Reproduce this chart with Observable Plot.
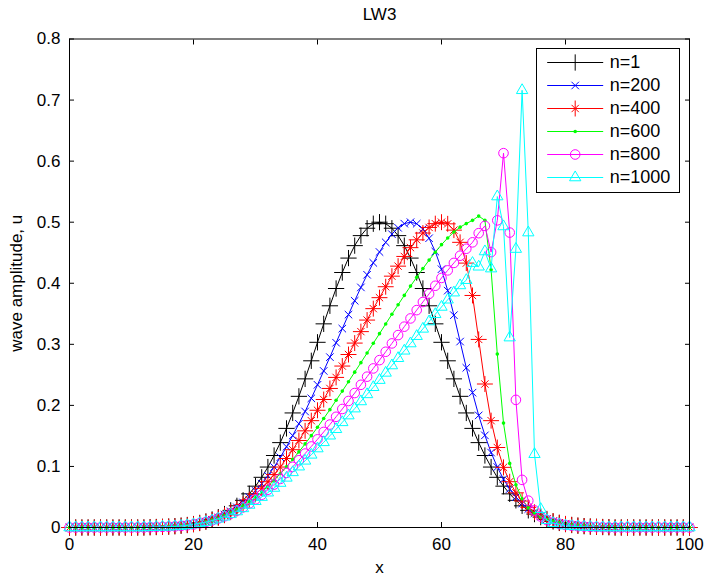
<!DOCTYPE html>
<html><head><meta charset="utf-8">
<script src="https://cdn.jsdelivr.net/npm/d3@7"></script>
<script src="https://cdn.jsdelivr.net/npm/@observablehq/plot@0.6"></script>
<style>
body{margin:0;background:#fff;}
#wrap{position:relative;width:705px;height:579px;background:#fff;}
#legend{position:absolute;left:536px;top:48px;width:144px;height:145px;box-sizing:border-box;border:1px solid #000;background:#fff;}
</style></head><body><div id="wrap"><div id="main"></div><div id="legend"></div></div>
<script>
const xValues = [0,1,2,3,4,5,6,7,8,9,10,11,12,13,14,15,16,17,18,19,20,21,22,23,24,25,26,27,28,29,30,31,32,33,34,35,36,37,38,39,40,41,42,43,44,45,46,47,48,49,50,51,52,53,54,55,56,57,58,59,60,61,62,63,64,65,66,67,68,69,70,71,72,73,74,75,76,77,78,79,80,81,82,83,84,85,86,87,88,89,90,91,92,93,94,95,96,97,98,99,100];

const seriesNames = ["n=1","n=200","n=400","n=600","n=800","n=1000"];
const seriesColors = ["#000000","#0000ff","#ff0000","#00ff00","#ff00ff","#00ffff"];

const u_n1 = [
0,0,0,0,0,0,0,0,0,0,
0,0,0,0.0005,0.0008,0.0011,0.0015,0.0022,0.003,0.0041,
0.0056,0.0075,0.0099,0.0131,0.017,0.022,0.0281,0.0355,0.0445,0.0551,
0.0677,0.0822,0.099,0.1179,0.139,0.1623,0.1876,0.2148,0.2434,0.273,
0.3033,0.3335,0.3631,0.3914,0.4176,0.4412,0.4616,0.478,0.4901,0.4975,
0.5,0.4975,0.4901,0.478,0.4616,0.4412,0.4176,0.3914,0.3631,0.3335,
0.3033,0.273,0.2434,0.2148,0.1876,0.1623,0.139,0.1179,0.099,0.0822,
0.0677,0.0551,0.0445,0.0355,0.0281,0.022,0.017,0.0131,0.0099,0.0075,
0.0056,0.0041,0.003,0.0022,0.0015,0.0011,0.0008,0.0005,0,0,
0,0,0,0,0,0,0,0,0,0,
0];
const u_n200 = [
0,0,0,0,0,0,0,0,0,0,
0,0,0,0.0004,0.0007,0.001,0.0015,0.002,0.003,0.004,
0.0055,0.0074,0.0097,0.0128,0.0165,0.021,0.0265,0.033,0.041,0.0498,
0.0601,0.0718,0.0847,0.099,0.115,0.1322,0.1506,0.1699,0.19,0.2115,
0.2337,0.2564,0.279,0.3026,0.3257,0.3486,0.3713,0.3932,0.4139,0.4334,
0.4512,0.467,0.4804,0.4908,0.4976,0.5,0.4975,0.4888,0.4737,0.4518,
0.423,0.3879,0.3477,0.3045,0.2615,0.2208,0.1836,0.1509,0.1227,0.099,
0.0792,0.063,0.0498,0.0391,0.0303,0.0234,0.0179,0.0136,0.0101,0.0076,
0.0056,0.0041,0.003,0.0022,0.0015,0.001,0.0007,0.0005,0,0,
0,0,0,0,0,0,0,0,0,0,
0];
const u_n400 = [
0,0,0,0,0,0,0,0,0,0,
0,0,0,0.0004,0.0007,0.001,0.0015,0.002,0.003,0.004,
0.0054,0.0072,0.0094,0.0123,0.0158,0.02,0.0251,0.031,0.0378,0.0455,
0.0543,0.0642,0.075,0.0867,0.099,0.113,0.1274,0.1425,0.1583,0.175,
0.192,0.2096,0.2277,0.2458,0.2644,0.2833,0.302,0.3208,0.3397,0.3584,
0.3764,0.3943,0.4116,0.428,0.4439,0.4583,0.4711,0.4822,0.4914,0.4976,
0.5,0.4973,0.487,0.467,0.433,0.38,0.308,0.235,0.175,0.131,
0.0985,0.075,0.0568,0.0433,0.033,0.025,0.019,0.0142,0.0106,0.0078,
0.0058,0.0043,0.0032,0.0023,0.0016,0.0011,0.0008,0.0005,0,0,
0,0,0,0,0,0,0,0,0,0,
0];
const u_n600 = [
0,0,0,0,0,0,0,0,0,0,
0,0,0,0.0004,0.0007,0.001,0.0014,0.002,0.0028,0.0038,
0.0053,0.007,0.0092,0.012,0.0152,0.0191,0.0238,0.0291,0.035,0.0421,
0.0498,0.0583,0.0675,0.0774,0.0881,0.0994,0.1115,0.1238,0.1369,0.1504,
0.1641,0.1785,0.193,0.2083,0.2234,0.2388,0.2544,0.27,0.2857,0.3017,
0.3175,0.3333,0.3492,0.3648,0.3801,0.3953,0.4098,0.424,0.4379,0.4508,
0.4632,0.4742,0.4839,0.4919,0.4977,0.503,0.51,0.503,0.422,0.284,
0.171,0.105,0.07,0.047,0.032,0.023,0.017,0.013,0.01,0.0075,
0.0055,0.004,0.003,0.0022,0.0015,0.001,0.0007,0.0004,0,0,
0,0,0,0,0,0,0,0,0,0,
0];
const u_n800 = [
0,0,0,0,0,0,0,0,0,0,
0,0,0,0.0004,0.0007,0.001,0.0013,0.0018,0.0026,0.0036,
0.005,0.007,0.009,0.0116,0.0147,0.0183,0.0226,0.0275,0.0331,0.0394,
0.0461,0.0536,0.0618,0.0703,0.0796,0.0894,0.0994,0.1102,0.1211,0.1327,
0.1444,0.1565,0.1686,0.1813,0.1941,0.2072,0.2202,0.2337,0.247,0.2605,
0.2741,0.2878,0.3015,0.3151,0.3289,0.3424,0.356,0.3693,0.3826,0.3959,
0.4087,0.4211,0.4333,0.4451,0.4565,0.467,0.482,0.494,0.451,0.503,
0.613,0.483,0.209,0.078,0.044,0.028,0.018,0.012,0.008,0.006,
0.004,0.003,0.002,0.0015,0.001,0.0007,0.0004,0,0,0,
0,0,0,0,0,0,0,0,0,0,
0];
const u_n1000 = [
0,0,0,0,0,0,0,0,0,0,
0,0,0,0.0004,0.0007,0.001,0.0012,0.0017,0.0025,0.0035,
0.005,0.0068,0.0088,0.0113,0.0142,0.0176,0.0216,0.0262,0.0313,0.0369,
0.043,0.0498,0.057,0.0647,0.0728,0.0813,0.0903,0.0996,0.1092,0.119,
0.1293,0.1395,0.1503,0.1609,0.1722,0.1833,0.1947,0.2064,0.218,0.2297,
0.2414,0.2532,0.2653,0.2772,0.2894,0.3013,0.3133,0.3253,0.3373,0.3492,
0.3612,0.373,0.3846,0.3964,0.405,0.433,0.427,0.452,0.424,0.542,
0.493,0.311,0.456,0.716,0.483,0.12,0.03,0.012,0.007,0.005,
0.003,0.002,0.0015,0.001,0.0006,0,0,0,0,0,
0,0,0,0,0,0,0,0,0,0,
0];

const xTicks = [0,20,40,60,80,100];
const xTickLabels = ["0","20","40","60","80","100"];
const yTicks = [0,0.1,0.2,0.3,0.4,0.5,0.6,0.7,0.8];
const yTickLabels = ["0","0.1","0.2","0.3","0.4","0.5","0.6","0.7","0.8"];
const titleText = "LW3";
const xLabel = "x";
const yLabel = "wave amplitude, u";

// marker styles (MATLAB: +, x, *, ., o, ^)
const markerSpecs = {
  "n=1":    [{symbol: "plus", r: 5.3}],
  "n=200":  [{symbol: "times", r: 3.5}],
  "n=400":  [{symbol: "plus", r: 5.2}, {symbol: "times", r: 3.4}],
  "n=600":  [{symbol: "circle", r: 1.8, filled: true}],
  "n=800":  [{symbol: "circle", r: 4.8}],
  "n=1000": [{symbol: "triangle", r: 4.2}]
};

const seriesValues = [u_n1, u_n200, u_n400, u_n600, u_n800, u_n1000];
const table = seriesNames.flatMap((name, i) =>
  xValues.map((x, j) => ({series: name, x, u: seriesValues[i][j]})));

const font = "'Liberation Sans', Arial, Helvetica, sans-serif";
const xLab = new Map(xTicks.map((t, i) => [t, xTickLabels[i]]));
const yLab = new Map(yTicks.map((t, i) => [t, yTickLabels[i]]));

function dotMarks(data, name, color, opts) {
  return markerSpecs[name].map(m => Plot.dot(data, {
    ...opts,
    symbol: m.symbol, r: m.r,
    stroke: m.filled ? "none" : color,
    fill: m.filled ? color : "none",
    strokeWidth: 1
  }));
}

const seriesMarks = [];
seriesNames.forEach((name, i) => {
  const data = table.filter(d => d.series === name);
  seriesMarks.push(Plot.line(data, {x: "x", y: "u", stroke: seriesColors[i], strokeWidth: 1}));
  seriesMarks.push(...dotMarks(data, name, seriesColors[i], {x: "x", y: "u"}));
});

const main = Plot.plot({
  width: 705, height: 579,
  marginLeft: 69, marginRight: 16, marginTop: 38.5, marginBottom: 52,
  style: {fontFamily: font, fontSize: "17px", background: "white", color: "black", overflow: "visible"},
  x: {domain: [0, 100]},
  y: {domain: [0, 0.8]},
  marks: [
    ...seriesMarks,
    Plot.frame({stroke: "black", strokeWidth: 1}),
    Plot.axisX(xTicks, {anchor: "bottom", tickSize: -5, tickPadding: 15, tickFormat: d => xLab.get(d), label: null, fontSize: 17}),
    Plot.axisX(xTicks, {anchor: "top", tickSize: -5, tickFormat: () => "", label: null}),
    Plot.axisY(yTicks, {anchor: "left", tickSize: -5, tickPadding: 14, tickFormat: d => yLab.get(d), label: null, fontSize: 17}),
    Plot.axisY(yTicks, {anchor: "right", tickSize: -5, tickFormat: () => "", label: null}),
    Plot.text([titleText], {text: d => d, frameAnchor: "top", lineAnchor: "middle", textAnchor: "middle", dy: -24.5, fontSize: 17}),
    Plot.text([xLabel], {text: d => d, frameAnchor: "bottom", lineAnchor: "middle", textAnchor: "middle", dy: 40, fontSize: 17}),
    Plot.text([yLabel], {text: d => d, frameAnchor: "left", lineAnchor: "middle", textAnchor: "middle", dx: -53, rotate: -90, fontSize: 17})
  ]
});
document.getElementById("main").append(main);

// legend
const legendMarks = [];
seriesNames.forEach((name, i) => {
  legendMarks.push(Plot.link([name], {x1: 0, x2: 1, y1: d => d, y2: d => d, stroke: seriesColors[i], strokeWidth: 1}));
  legendMarks.push(...dotMarks([name], name, seriesColors[i], {x: 0.5, y: d => d}));
});
legendMarks.push(Plot.text(seriesNames, {x: 1, y: d => d, text: d => d, textAnchor: "start", lineAnchor: "middle", dx: 6.6, fontSize: 18, fill: "black"}));

const legend = Plot.plot({
  width: 142, height: 143,
  marginLeft: 9.7, marginRight: 76.3, marginTop: 13, marginBottom: 15,
  style: {fontFamily: font, fontSize: "18px", background: "white", color: "black", overflow: "visible"},
  x: {domain: [0, 1], axis: null},
  y: {type: "point", domain: seriesNames, padding: 0, axis: null},
  marks: legendMarks
});
document.getElementById("legend").append(legend);
</script>
</body></html>
